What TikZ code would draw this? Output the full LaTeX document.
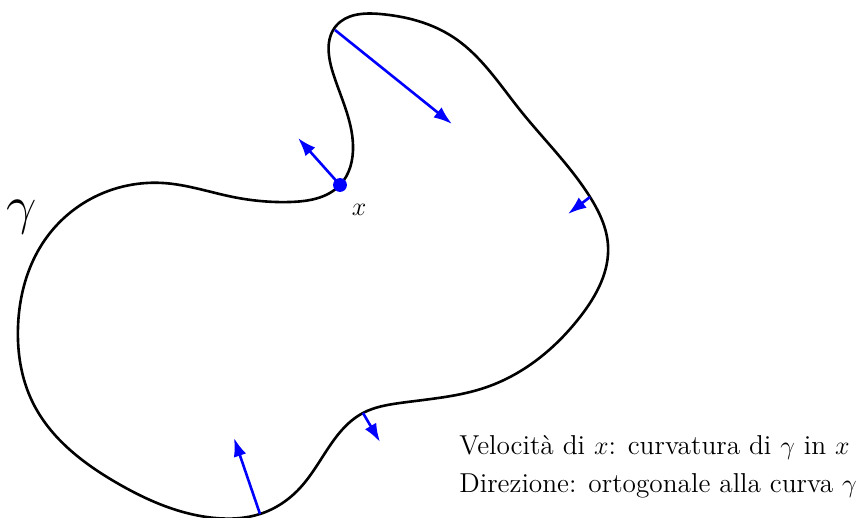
\documentclass[tikz,border=0pt]{standalone}
\usetikzlibrary{arrows.meta,hobby}
\begin{document}
\begin{tikzpicture}[x=0.4608pt,y=-0.4608pt,
  curve/.style={line width=1.2pt,black},
  vel/.style={blue,line width=1.2pt,-{Latex[length=8.5pt,width=6pt]}},
  lbl/.style={inner sep=0pt}]
\useasboundingbox (0,0) rectangle (861,518);
\draw[curve] plot[closed hobby] coordinates {
(340,185) (353,145) (333,73) (336,26) (380,14)
(453,37) (520,110) (590,197) (608,245)
(580,317) (487,387) (400,403) (363,413)
(300,488) (260,514) (215,518) (117,483) (33,403)
(18,327) (50,233) (163,183) (233,197) (290,202)};
\coordinate (X) at (340,185);
\coordinate (V1) at (298,138);
\coordinate (A2) at (335,30);
\coordinate (B2) at (452,124);
\coordinate (A3) at (590,197);
\coordinate (B3) at (568,214);
\coordinate (A4) at (363,413);
\coordinate (B4) at (380,442);
\coordinate (A5) at (260,514);
\coordinate (B5) at (234,438);
\draw[vel] (X) -- (V1);
\draw[vel] (A2) -- (B2);
\draw[vel] (A3) -- (B3);
\draw[vel] (A4) -- (B4);
\draw[vel] (A5) -- (B5);
\fill[blue] (X) circle (3.2pt);
\node[lbl] (xl) at (359,210) {\fontsize{12.6}{15}\selectfont$x$};
\node[lbl] (g) at (22,217) {\Huge$\gamma$};
\node[lbl,anchor=base west] (t1) at (459,455) {\fontsize{12.6}{15}\selectfont Velocità di $x$: curvatura di $\gamma$ in $x$};
\node[lbl,anchor=base west] (t2) at (459,493) {\fontsize{12.6}{15}\selectfont Direzione: ortogonale alla curva $\gamma$};
\end{tikzpicture}
\end{document}
